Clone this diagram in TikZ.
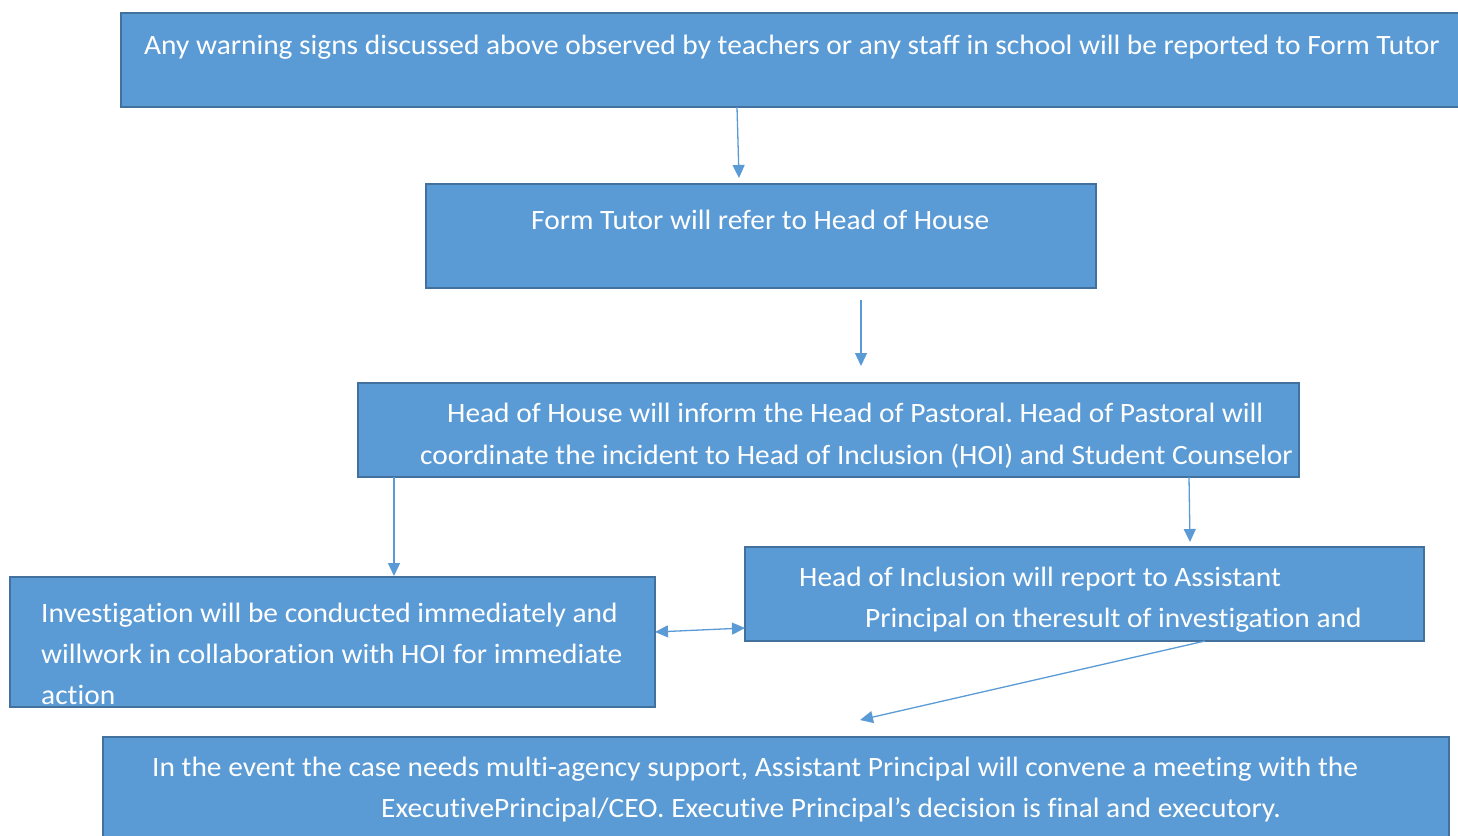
\documentclass[tikz,border=0pt]{standalone}
\usepackage{fontspec}
\setmainfont{Carlito}[FakeStretch=1.05, Ligatures={NoCommon}]
\usetikzlibrary{arrows.meta}
\definecolor{boxfill}{HTML}{5B9BD5}
\definecolor{boxline}{HTML}{41719C}
\definecolor{arrowc}{HTML}{5B9BD5}
\frenchspacing
\tikzset{
  flowbox/.style={draw=boxline, fill=boxfill, line width=2pt},
  txt/.style={text=white, font=\fontsize{28}{34}\selectfont, anchor=base west, inner sep=0pt},
  conn/.style={draw=arrowc, line width=1.3pt, -{Triangle[length=13pt,width=12pt]}},
  dconn/.style={draw=arrowc, line width=1.3pt, {Triangle[length=13pt,width=12pt]}-{Triangle[length=13pt,width=12pt]}}
}
\begin{document}
\begin{tikzpicture}[x=1pt,y=-1pt]
\useasboundingbox (0,0) rectangle (1458,835);
\begin{scope}
\clip (0,0) rectangle (1458,835);
\fill[white] (0,0) rectangle (1458,835);
% boxes
\draw[flowbox] (121,13) rectangle (1470,107);
\draw[flowbox] (426,184) rectangle (1096,288);
\draw[flowbox] (358,383) rectangle (1299,477);
\draw[flowbox] (10,577) rectangle (655,707);
\draw[flowbox] (745,547) rectangle (1424,641);
\draw[flowbox] (103,737) rectangle (1449,850);
\end{scope}
% texts
\node[txt] (t1) at (144,54) {Any warning signs discussed above observed by teachers or any staff in school will be reported to Form Tutor};
\node[txt] (t2) at (531,229) {Form Tutor will refer to Head of House};
\node[txt] (t3a) at (447,422) {Head of House will inform the Head of Pastoral. Head of Pastoral will};
\node[txt] (t3b) at (420,464) {coordinate the incident to Head of Inclusion (HOI) and Student Counselor};
\node[txt] (t4a) at (41,622) {Investigation will be conducted immediately and};
\node[txt] (t4b) at (41,663) {willwork in collaboration with HOI for immediate};
\node[txt] (t4c) at (41,704) {action};
\node[txt] (t5a) at (799,586) {Head of Inclusion will report to Assistant};
\node[txt] (t5b) at (865,627) {Principal on theresult of investigation and};
\node[txt] (t6a) at (152,776) {In the event the case needs multi-agency support, Assistant Principal will convene a meeting with the};
\node[txt] (t6b) at (381,817) {ExecutivePrincipal/CEO. Executive Principal’s decision is final and executory.};
% connector end points
\coordinate (a1s) at (737,107);
\coordinate (a1e) at (739,178);
\coordinate (a2s) at (861,300);
\coordinate (a2e) at (861,366);
\coordinate (a3s) at (394,477);
\coordinate (a3e) at (394,576);
\coordinate (a4s) at (1189,477);
\coordinate (a4e) at (1190,542);
\coordinate (a5s) at (655,632);
\coordinate (a5e) at (745,628);
\coordinate (a6s) at (1205,641);
\coordinate (a6e) at (860,720);
\draw[conn] (a1s) -- (a1e);
\draw[conn] (a2s) -- (a2e);
\draw[conn] (a3s) -- (a3e);
\draw[conn] (a4s) -- (a4e);
\draw[dconn] (a5s) -- (a5e);
\draw[conn] (a6s) -- (a6e);
\end{tikzpicture}
\end{document}
